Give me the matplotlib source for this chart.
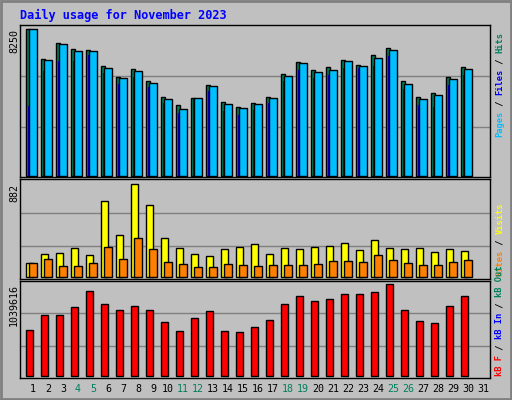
import matplotlib
matplotlib.use("Agg")
import matplotlib.pyplot as plt
from matplotlib.patches import Rectangle

days = list(range(1, 32))
hits = [8250, 6570, 7470, 7130, 7080, 6180, 5560, 6010, 5340, 4440, 3990, 4380, 5110, 4160, 3880, 4100, 4440, 5730, 6400, 5950, 6120, 6510, 6230, 6790, 7190, 5340, 4440, 4670, 5560, 6120, 0]
files = [8250, 6510, 7410, 7020, 7020, 6070, 5500, 5900, 5230, 4330, 3770, 4380, 5040, 4050, 3830, 4050, 4380, 5620, 6340, 5840, 5950, 6460, 6180, 6620, 7080, 5170, 4330, 4550, 5450, 6010, 0]
pages = [3960, 5900, 6460, 6460, 6790, 5780, 5170, 5560, 5000, 4110, 3550, 4330, 4780, 3660, 3430, 3720, 4110, 5340, 5950, 5510, 5670, 6070, 6070, 6180, 6740, 4890, 3990, 3880, 5110, 5670, 0]
visits = [127, 213, 223, 271, 204, 720, 395, 882, 682, 366, 271, 213, 194, 261, 280, 309, 213, 271, 261, 280, 290, 318, 252, 347, 271, 261, 271, 233, 261, 242, 0]
sites = [127, 166, 98, 98, 127, 280, 166, 366, 261, 137, 118, 89, 89, 118, 108, 98, 108, 108, 108, 118, 147, 147, 137, 204, 156, 127, 108, 108, 137, 156, 0]
kbytes = [516000, 687000, 687000, 778000, 960000, 812000, 744000, 797000, 744000, 607000, 505000, 653000, 732000, 505000, 493000, 550000, 630000, 812000, 903000, 846000, 869000, 926000, 926000, 948000, 1039616, 744000, 619000, 596000, 789000, 903000, 0]
weekend = {4, 5, 11, 12, 18, 19, 25, 26}

W, H = 512, 400
fig = plt.figure(figsize=(W/100, H/100), dpi=100)
fig.patch.set_facecolor("#c0c0c0")
MONO = "DejaVu Sans Mono"

def axes_px(x0, y0, x1, y1):
    return fig.add_axes([x0/W, 1-y1/H, (x1-x0)/W, (y1-y0)/H])

X0, X1 = 20, 490
xl = (1-13/15, 31+7/15)

def setup(ax, ylim, grids):
    ax.set_facecolor("#c0c0c0")
    ax.set_xlim(*xl); ax.set_ylim(*ylim)
    ax.set_xticks([]); ax.set_yticks([])
    for g in grids:
        ax.axhline(g, color="#808080", lw=1, zorder=0)
    for s in ax.spines.values():
        s.set_color("black"); s.set_linewidth(1)

ax1 = axes_px(X0, 25, X1, 177)
setup(ax1, (-56, 8492), [2754, 5620])
ax2 = axes_px(X0, 179, X1, 279)
setup(ax2, (-22, 932), [290, 605])
ax3 = axes_px(X0, 281, X1, 378)
setup(ax3, (-26000, 1077000), [338000, 710000])

ek = dict(edgecolor="black", linewidth=1)

def nz(xs, vals, off=0.0):
    pts = [(d+off, v) for d, v in zip(xs, vals) if v > 0]
    return [p[0] for p in pts], [p[1] for p in pts]

ax1.bar(*nz(days, hits, -0.355), width=0.27, color="#00805c", **ek, zorder=2)
ax1.bar(*nz(days, pages, -0.3), width=0.12, color="#0000d0", linewidth=0, zorder=3)
ax1.bar(*nz(days, files), width=0.48, color="#00bfff", **ek, zorder=4)
ax2.bar(*nz(days, visits, -0.245), width=0.49, color="#ffff00", **ek, zorder=2)
ax2.bar(*nz(days, sites), width=0.48, color="#ff8000", **ek, zorder=3)
ax3.bar(*nz(days, kbytes, -0.26), width=0.46, color="#ff0000", **ek, zorder=2)

fig.text(20/W, 1-15/H, "Daily usage for November 2023", color="#0000ff",
         family=MONO, weight="bold", fontsize=8.6, va="center", ha="left")

for y, lab in [(29, "8250"), (184, "882"), (284, "1039616")]:
    fig.text(14/W, 1-y/H, lab, rotation=90, family=MONO, fontsize=7.2,
             ha="center", va="top")

for d in days:
    ax3.text(d, -0.11, str(d), transform=ax3.get_xaxis_transform(),
             ha="center", va="center", family=MONO, fontsize=7.2,
             color="#00805c" if d in weekend else "black")

fig.canvas.draw()
renderer = fig.canvas.get_renderer()

def stacked(ybottom, parts, x=500):
    y = ybottom
    for txt, col in parts:
        t = fig.text(x/W, 1-y/H, txt, rotation=90, family=MONO, weight="bold",
                     fontsize=6.3, color=col, ha="center", va="bottom")
        ext = t.get_window_extent(renderer)
        y -= ext.height

stacked(137, [("Pages", "#00bfff"), (" / ", "#000000"), ("Files", "#0000ff"),
              (" / ", "#000000"), ("Hits", "#00805c")])
stacked(276, [("Sites", "#ff8000"), (" / ", "#000000"), ("Visits", "#ffff00")])
stacked(376, [("kB F", "#ff0000"), (" / ", "#000000"), ("kB In", "#0000ff"),
              (" / ", "#000000"), ("kB Out", "#00805c")])

fig.patches.append(Rectangle((1/W, 1/H), 1-2/W, 1-2/H, transform=fig.transFigure,
                             fill=False, edgecolor="#808080", lw=2))
fig.savefig("out.png", dpi=100, facecolor=fig.get_facecolor())
